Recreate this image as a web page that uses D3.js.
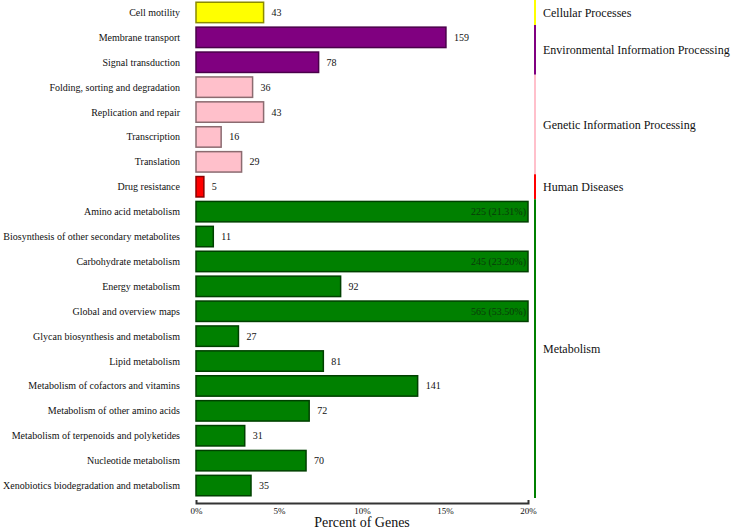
<!DOCTYPE html>
<html><head><meta charset="utf-8">
<script src="https://cdn.jsdelivr.net/npm/d3@7"></script>
<style>
html,body{margin:0;padding:0;background:#fff;}
svg{display:block;font-family:"Liberation Serif","DejaVu Serif",serif;}
</style></head>
<body>
<svg id="chart" width="731" height="532"></svg>
<script>
const categories = ["Cell motility","Membrane transport","Signal transduction","Folding, sorting and degradation","Replication and repair","Transcription","Translation","Drug resistance","Amino acid metabolism","Biosynthesis of other secondary metabolites","Carbohydrate metabolism","Energy metabolism","Global and overview maps","Glycan biosynthesis and metabolism","Lipid metabolism","Metabolism of cofactors and vitamins","Metabolism of other amino acids","Metabolism of terpenoids and polyketides","Nucleotide metabolism","Xenobiotics biodegradation and metabolism"];
const geneCounts = [43,159,78,36,43,16,29,5,225,11,245,92,565,27,81,141,72,31,70,35];
const groupOf = ["Cellular Processes","Environmental Information Processing","Environmental Information Processing","Genetic Information Processing","Genetic Information Processing","Genetic Information Processing","Genetic Information Processing","Human Diseases","Metabolism","Metabolism","Metabolism","Metabolism","Metabolism","Metabolism","Metabolism","Metabolism","Metabolism","Metabolism","Metabolism","Metabolism"];
const groups = ["Cellular Processes","Environmental Information Processing","Genetic Information Processing","Human Diseases","Metabolism"];
const groupColors = ["#ffff00","#800080","#ffc0cb","#ff0000","#008000"];
const groupStrokes = ["#8b8b00","#4a004a","#8b6b70","#8b0000","#004000"];
const totalGenes = 1056;
const xTicks = [0,5,10,15,20];

const svg = d3.select("#chart");
const x = d3.scaleLinear().domain([0,20]).range([196,528]).clamp(true);
const y = d3.scaleBand().domain(categories).range([0,498]).paddingInner(0.18).paddingOuter(0.09);
const color = d3.scaleOrdinal().domain(groups).range(groupColors);
const stroke = d3.scaleOrdinal().domain(groups).range(groupStrokes);

const data = categories.map((c,i)=>({cat:c, n:geneCounts[i], group:groupOf[i], pct:geneCounts[i]/totalGenes*100}));

// category labels
svg.append("g").selectAll("text").data(data).join("text")
  .attr("x",180).attr("y",d=>y(d.cat)+y.bandwidth()/2).attr("dy","0.35em")
  .attr("text-anchor","end").attr("font-size",10).attr("fill","#111")
  .text(d=>d.cat);

// bars
svg.append("g").selectAll("rect").data(data).join("rect")
  .attr("x",x(0)).attr("y",d=>y(d.cat))
  .attr("width",d=>x(d.pct)-x(0)).attr("height",y.bandwidth())
  .attr("fill",d=>color(d.group)).attr("stroke",d=>stroke(d.group)).attr("stroke-width",1.5);

// value labels
svg.append("g").selectAll("text").data(data).join("text")
  .attr("x",d=>d.pct>20 ? x(20)-2 : x(d.pct)+8)
  .attr("y",d=>y(d.cat)+y.bandwidth()/2).attr("dy","0.35em")
  .attr("text-anchor",d=>d.pct>20?"end":"start")
  .attr("font-size",10).attr("fill",d=>d.pct>20?"#0a3a0a":"#111")
  .text(d=>d.pct>20 ? `${d.n} (${d.pct.toFixed(2)}%)` : d.n);

// group lines and labels
const step = y.step(), gap = step*y.paddingInner();
groups.forEach((g,gi)=>{
  const rows = data.filter(d=>d.group===g);
  const y0 = y(rows[0].cat) - gap/2;
  const y1 = y(rows[rows.length-1].cat) + y.bandwidth() + gap/2;
  svg.append("line").attr("x1",535).attr("x2",535).attr("y1",Math.max(0,y0)).attr("y2",y1)
    .attr("stroke",groupColors[gi]).attr("stroke-width",2);
  svg.append("text").attr("x",543).attr("y",(Math.max(0,y0)+y1)/2).attr("dy","0.35em")
    .attr("font-size",12).attr("fill","#111").text(g);
});

// axis
const axis = d3.axisBottom(x).tickValues(xTicks).tickFormat(d=>d+"%").tickSizeInner(0).tickSizeOuter(-3).tickPadding(5);
const ag = svg.append("g").attr("transform","translate(0,503)").call(axis);
ag.select(".domain").attr("stroke","#333").attr("stroke-width",2);
ag.selectAll("text").attr("font-size",9).attr("font-family","Liberation Serif, serif").attr("fill","#111");

svg.append("text").attr("x",362).attr("y",527).attr("text-anchor","middle")
  .attr("font-size",14).attr("fill","#111").text("Percent of Genes");
</script>
</body></html>
